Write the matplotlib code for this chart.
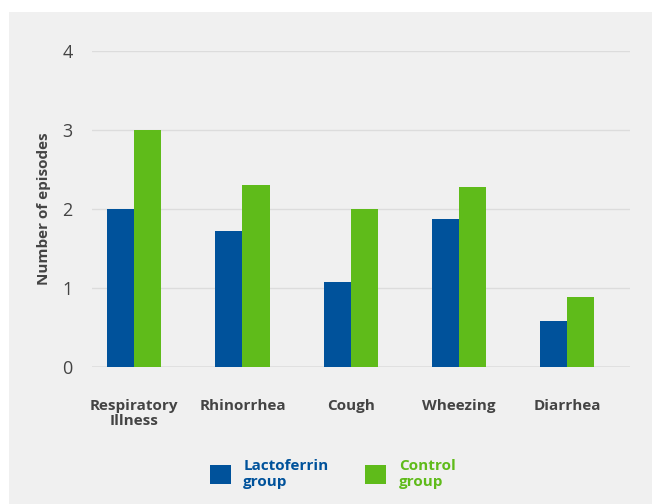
import matplotlib.pyplot as plt
from matplotlib.patches import Rectangle, Patch
import numpy as np

categories = ["Respiratory\nIllness", "Rhinorrhea", "Cough", "Wheezing", "Diarrhea"]
lactoferrin = [2.0, 1.72, 1.08, 1.87, 0.58]
control = [3.0, 2.30, 2.0, 2.28, 0.89]
yticks = [0, 1, 2, 3, 4]

BLUE = "#00529b"
GREEN = "#5fbb1a"
GRAY_TXT = "#444444"

plt.rcParams['font.family'] = ['Open Sans', 'DejaVu Sans']

fig = plt.figure(figsize=(6.52, 5.04), dpi=100)
fig.patches.append(Rectangle((9 / 652, 0), 1, 1 - 12 / 504, transform=fig.transFigure,
                             facecolor="#f0f0f0", edgecolor="none", zorder=-10))

ax = fig.add_axes([92 / 652, 1 - 367 / 504, 538 / 652, 316 / 504])
ax.set_facecolor("none")

x = np.arange(len(categories))
w = 0.25
ax.bar(x - w / 2, lactoferrin, w, color=BLUE, zorder=3)
ax.bar(x + w / 2, control, w, color=GREEN, zorder=3)

ax.set_xlim(-0.39, 4.58)
ax.set_ylim(0, 4)
ax.set_yticks(yticks)
ax.set_yticklabels([str(t) for t in yticks], fontsize=13, color=GRAY_TXT)
ax.set_xticks(x)
ax.set_xticklabels(categories, fontsize=11, fontweight="bold", color=GRAY_TXT,
                   linespacing=1.1)
ax.tick_params(axis="both", length=0)
ax.tick_params(axis="y", pad=14)
ax.tick_params(axis="x", pad=23)
for s in ax.spines.values():
    s.set_visible(False)
ax.grid(axis="y", color="#dcdcdc", linewidth=1, zorder=0)
ax.axhline(0, color="#e0e0e0", linewidth=2, zorder=1)

ax.set_ylabel("Number of episodes", fontsize=11, fontweight="bold", color=GRAY_TXT,
              labelpad=8)

handles = [Patch(facecolor=BLUE), Patch(facecolor=GREEN)]
fig.legend(handles, ["Lactoferrin\ngroup", "Control\ngroup"], loc="center",
           bbox_to_anchor=(0.51, 1 - 474 / 504), ncol=2, frameon=False,
           labelcolor=[BLUE, GREEN], prop={"weight": "bold", "size": 11},
           handlelength=1.4, handleheight=1.6, columnspacing=2.4, handletextpad=0.8,
           labelspacing=0.2)

plt.savefig("out.png", dpi=100)
